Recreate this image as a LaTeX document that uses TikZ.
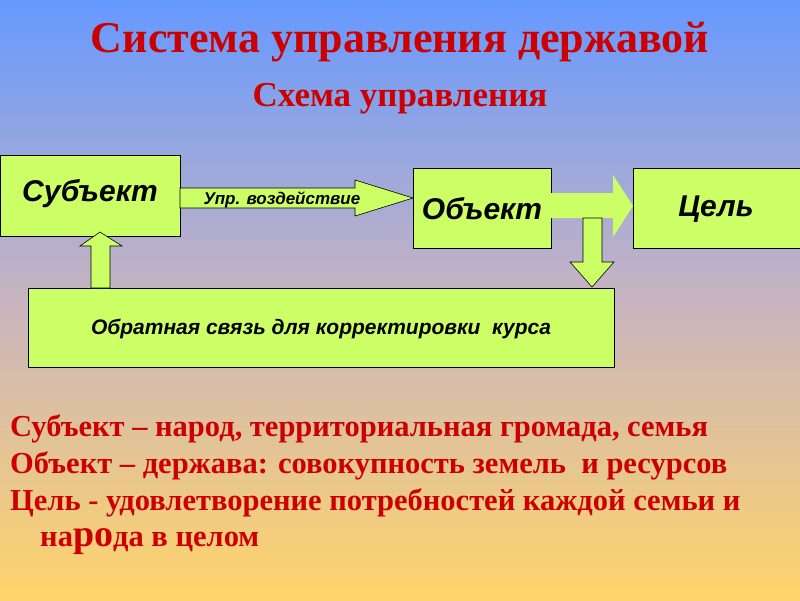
\documentclass[tikz,border=0pt]{standalone}
\usepackage{fontspec}
\setmainfont{Liberation Serif}
\newfontfamily\arial{Liberation Sans}
\definecolor{boxg}{HTML}{CCFF66}
\definecolor{tred}{HTML}{CC0000}
\definecolor{topb}{HTML}{6699FF}
\definecolor{midc}{HTML}{C8B4C0}
\definecolor{botc}{HTML}{FFD46A}
\tikzset{
 box/.style={draw=black,fill=boxg,line width=0.6pt,inner sep=0pt},
 boxtxt/.style={font=\arial\bfseries\itshape},
 fat/.style={draw=black,fill=boxg,line width=0.6pt},
 body/.style={anchor=base west,text=tred,font=\fontsize{30.5}{34}\selectfont\bfseries,inner sep=0pt}
}
\begin{document}
\begin{tikzpicture}[x=1pt,y=-1pt]
\useasboundingbox (0,0) rectangle (800,600);
\shade[top color=topb,bottom color=midc] (0,0) rectangle (800,300);
\shade[top color=midc,bottom color=botc] (0,299.5) rectangle (800,600);
\node[text=tred,font=\fontsize{44}{48}\selectfont\bfseries] (t) at (400,42) {Система управления державой};
\node[text=tred,font=\fontsize{35}{40}\selectfont\bfseries] (st) at (400,99) {Схема управления};
% boxes
\draw[box] (0,155) rectangle (180,236);
\node[boxtxt,font=\arial\bfseries\itshape\fontsize{30}{34}\selectfont] (sub) at (90,194) {Субъект};
\draw[box] (413,168) rectangle (551,248);
\node[boxtxt,font=\arial\bfseries\itshape\fontsize{30}{34}\selectfont] (obj) at (482,209) {Объект};
\draw[box] (633,168) rectangle (800,248);
\node[boxtxt,font=\arial\bfseries\itshape\fontsize{30}{34}\selectfont] (cel) at (716,209) {Цель};
\draw[box] (28,288) rectangle (614,367);
\node[boxtxt,font=\arial\bfseries\itshape\fontsize{21}{24}\selectfont] (fb) at (321,329) {Обратная связь для корректировки \ курса};
% arrows
\draw[fat] (180,188) -- (355,188) -- (355,180) -- (413,198) -- (355,216) -- (355,208) -- (180,208) -- cycle;
\node[boxtxt,font=\arial\bfseries\itshape\fontsize{17}{20}\selectfont] (upr) at (282,200) {Упр. воздействие};
\fill[boxg] (551,193) -- (613,193) -- (613,175) -- (633,206) -- (613,237) -- (613,218) -- (551,218) -- cycle;
\draw[fat] (583,218) -- (602,218) -- (602,262) -- (614,262) -- (592,287) -- (570,262) -- (583,262) -- cycle;
\draw[fat] (91,288) -- (110,288) -- (110,246) -- (122,246) -- (100,232) -- (80,246) -- (91,246) -- cycle;
% text
\node[body] (l1) at (10,436) {Субъект – народ, территориальная громада, семья};
\node[body] (l2) at (10,473) {Объект – держава: совокупность земель \ и ресурсов};
\node[body] (l3) at (10,510) {Цель - удовлетворение потребностей каждой семьи и};
\node[body] (l4) at (40,546) {на{\fontsize{38}{38}\selectfont ро}да в целом};
\end{tikzpicture}
\end{document}
